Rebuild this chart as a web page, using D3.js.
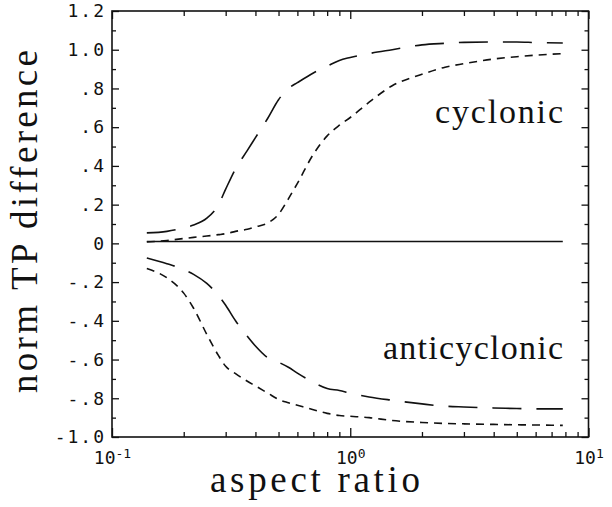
<!DOCTYPE html>
<html>
<head>
<meta charset="utf-8">
<script src="https://cdn.jsdelivr.net/npm/d3@7"></script>
<style>
body { margin:0; background:#fff; }
.curve { fill:none; stroke:#111; stroke-width:1.6; }
.longDash { stroke-dasharray:29 15; }
.shortDash { stroke-dasharray:8 6; }
.axis path { display:none; }
.axis line { stroke:#111; stroke-width:1.3; }
.axis text { font-family:"DejaVu Sans Mono", monospace; font-size:18px; fill:#111; letter-spacing:2px; }
.frame { fill:none; stroke:#111; stroke-width:1.6; }
.title { font-family:"Liberation Serif", serif; fill:#111; }
</style>
</head>
<body>
<svg id="myGraph" width="612" height="507"></svg>
<script>
// 가로축 값 (aspect ratio)
var ratios = [0.14, 0.17, 0.2, 0.22, 0.25, 0.28, 0.3, 0.33, 0.37, 0.4, 0.45, 0.5, 0.55, 0.6,
	0.7, 0.8, 0.9, 1.0, 1.2, 1.5, 2, 2.5, 3, 4, 5, 6, 7.8];

// cyclonic, 긴 점선
var cycLong = [0.054, 0.062, 0.08, 0.095, 0.13, 0.2, 0.28, 0.385, 0.48, 0.546, 0.645, 0.742, 0.8, 0.83,
	0.88, 0.915, 0.945, 0.96, 0.98, 1.0, 1.025, 1.033, 1.038, 1.04, 1.04, 1.037, 1.035];
// cyclonic, 짧은 점선
var cycShort = [0.007, 0.015, 0.025, 0.031, 0.038, 0.045, 0.05, 0.062, 0.073, 0.085, 0.105, 0.15, 0.23, 0.31,
	0.46, 0.555, 0.61, 0.65, 0.729, 0.814, 0.873, 0.91, 0.928, 0.952, 0.964, 0.972, 0.98];
// anticyclonic, 긴 점선
var antiLong = [-0.076, -0.105, -0.135, -0.16, -0.207, -0.27, -0.32, -0.40, -0.48, -0.53, -0.59, -0.614, -0.64, -0.67,
	-0.718, -0.75, -0.76, -0.774, -0.793, -0.81, -0.829, -0.841, -0.845, -0.85, -0.853, -0.855, -0.855];
// anticyclonic, 짧은 점선
var antiShort = [-0.13, -0.178, -0.257, -0.335, -0.47, -0.58, -0.635, -0.673, -0.712, -0.736, -0.773, -0.806, -0.823, -0.836,
	-0.859, -0.878, -0.889, -0.893, -0.90, -0.915, -0.925, -0.93, -0.932, -0.935, -0.937, -0.938, -0.94];
// 가운데 실선
var zeroRatios = [0.14, 7.8];
var zeroLine = [0.01, 0.01];

// 눈금
var yTickValues = [-1.0, -0.8, -0.6, -0.4, -0.2, 0, 0.2, 0.4, 0.6, 0.8, 1.0, 1.2];
var yTickLabels = ["-1.0", "-.8", "-.6", "-.4", "-.2", "0", ".2", ".4", ".6", ".8", "1.0", "1.2"];
var yMinorTicks = [-0.9, -0.7, -0.5, -0.3, -0.1, 0.1, 0.3, 0.5, 0.7, 0.9, 1.1];
var xTickValues = [0.1, 1, 10];
var xTickExps = ["-1", "0", "1"];
var xMinorTicks = [0.2, 0.3, 0.4, 0.5, 0.6, 0.7, 0.8, 0.9, 2, 3, 4, 5, 6, 7, 8, 9];

window.addEventListener("load", function(){
var left = 112, right = 588.5, top = 11, bottom = 437;
var svg = d3.select("#myGraph");

var xScale = d3.scaleLog().domain([0.1, 10]).range([left, right]);
var yScale = d3.scaleLinear().domain([-1, 1.2]).range([bottom, top]);

// 꺾은선 그리기
function drawCurve(xs, ys, cls){
	var line = d3.line()
		.x(function(d, i){ return xScale(xs[i]); })
		.y(function(d){ return yScale(d); })
		.curve(d3.curveMonotoneX);
	svg.append("path")
		.attr("class", "curve " + cls)
		.attr("d", line(ys));
}
drawCurve(ratios, cycLong, "longDash");
drawCurve(ratios, cycShort, "shortDash");
drawCurve(ratios, antiLong, "longDash");
drawCurve(ratios, antiShort, "shortDash");
drawCurve(zeroRatios, zeroLine, "");

// 테두리
svg.append("rect").attr("class", "frame")
	.attr("x", left).attr("y", top)
	.attr("width", right - left).attr("height", bottom - top);

// 세로 눈금 (왼쪽)
svg.append("g").attr("class", "axis")
	.attr("transform", "translate(" + left + ",0)")
	.call(d3.axisLeft(yScale).tickValues(yTickValues).tickSize(-7).tickPadding(6)
		.tickFormat(function(d, i){ return yTickLabels[i]; }));
svg.append("g").attr("class", "axis")
	.attr("transform", "translate(" + left + ",0)")
	.call(d3.axisLeft(yScale).tickValues(yMinorTicks).tickSize(-4).tickFormat(""));
// 세로 눈금 (오른쪽)
svg.append("g").attr("class", "axis")
	.attr("transform", "translate(" + right + ",0)")
	.call(d3.axisRight(yScale).tickValues(yTickValues).tickSize(-7).tickFormat(""));
svg.append("g").attr("class", "axis")
	.attr("transform", "translate(" + right + ",0)")
	.call(d3.axisRight(yScale).tickValues(yMinorTicks).tickSize(-4).tickFormat(""));

// 가로 눈금 (아래)
var bottomAxis = svg.append("g").attr("class", "axis")
	.attr("transform", "translate(0," + bottom + ")")
	.call(d3.axisBottom(xScale).tickValues(xTickValues).tickSize(-9).tickPadding(14).tickFormat(""));
bottomAxis.selectAll(".tick text").each(function(d, i){
	var t = d3.select(this).style("letter-spacing", "0px");
	t.append("tspan").text("10");
	t.append("tspan").attr("dy", "-0.45em").style("font-size", "13px").text(xTickExps[i]);
});
svg.append("g").attr("class", "axis")
	.attr("transform", "translate(0," + bottom + ")")
	.call(d3.axisBottom(xScale).tickValues(xMinorTicks).tickSize(-5).tickFormat(""));
// 가로 눈금 (위)
svg.append("g").attr("class", "axis")
	.attr("transform", "translate(0," + top + ")")
	.call(d3.axisTop(xScale).tickValues(xTickValues).tickSize(-8).tickFormat(""));
svg.append("g").attr("class", "axis")
	.attr("transform", "translate(0," + top + ")")
	.call(d3.axisTop(xScale).tickValues(xMinorTicks).tickSize(-5).tickFormat(""));

// 축 제목
svg.append("text").attr("class", "title")
	.attr("x", 210).attr("y", 492)
	.attr("font-size", 37).attr("textLength", 210)
	.text("aspect ratio");
svg.append("text").attr("class", "title")
	.attr("transform", "translate(37,393) rotate(-90)")
	.attr("font-size", 37).attr("textLength", 343)
	.text("norm TP difference");

// 주석
svg.append("text").attr("class", "title")
	.attr("x", 435).attr("y", 123)
	.attr("font-size", 34).attr("textLength", 128)
	.text("cyclonic");
svg.append("text").attr("class", "title")
	.attr("x", 383).attr("y", 359)
	.attr("font-size", 34).attr("textLength", 180)
	.text("anticyclonic");
});
</script>
</body>
</html>
